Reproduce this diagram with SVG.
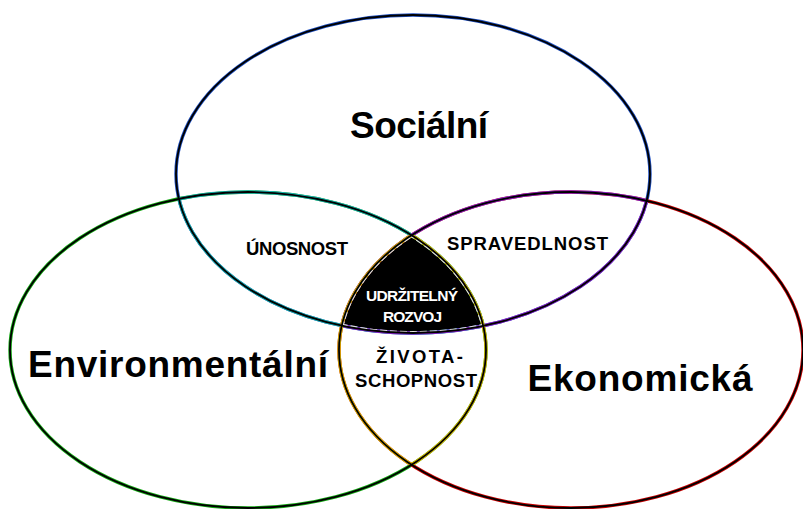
<svg xmlns="http://www.w3.org/2000/svg" width="803" height="509" viewBox="0 0 803 509">
<style>
.big{font-family:"Liberation Sans",Arial,sans-serif;font-weight:bold;font-size:37px;fill:#000;text-anchor:middle}
.mid{font-family:"Liberation Sans",Arial,sans-serif;font-weight:bold;font-size:18.5px;fill:#000;text-anchor:middle}
.wht{font-family:"Liberation Sans",Arial,sans-serif;font-weight:bold;font-size:15.5px;fill:#fff;text-anchor:middle}
.c{fill:none;stroke-width:3.4}
.k{fill:none;stroke:#000;stroke-width:1.8}
.w{fill:none;stroke:#e0e0e0;stroke-width:4;stroke-dasharray:7 3}
</style>
<defs>
<ellipse id="eT" cx="413" cy="174" rx="237" ry="159"/>
<ellipse id="eL" cx="248" cy="350" rx="238" ry="158"/>
<ellipse id="eR" cx="571" cy="350" rx="232" ry="158"/>
<clipPath id="cT"><use href="#eT"/></clipPath>
<clipPath id="cL"><use href="#eL"/></clipPath>
<clipPath id="cR"><use href="#eR"/></clipPath>
</defs>
<rect width="803" height="509" fill="#fff"/>
<g id="core-fill" clip-path="url(#cT)"><g clip-path="url(#cL)"><use href="#eR" fill="#000"/></g></g>
<g id="tints">
<use href="#eT" class="c" stroke="#1e4fc0"/>
<use href="#eL" class="c" stroke="#14a814"/>
<use href="#eR" class="c" stroke="#c80000"/>
<g clip-path="url(#cL)"><use href="#eT" class="c" stroke="#19b0b0"/></g>
<g clip-path="url(#cT)"><use href="#eL" class="c" stroke="#19b0b0"/></g>
<g clip-path="url(#cR)"><use href="#eT" class="c" stroke="#8a22c8"/></g>
<g clip-path="url(#cT)"><use href="#eR" class="c" stroke="#8a22c8"/></g>
<g clip-path="url(#cR)"><use href="#eL" class="c" stroke="#d8b400"/></g>
<g clip-path="url(#cL)"><use href="#eR" class="c" stroke="#d8b400"/></g>
<g clip-path="url(#cT)"><g clip-path="url(#cL)"><g clip-path="url(#cR)">
<use href="#eT" class="w"/><use href="#eL" class="w"/><use href="#eR" class="w"/>
</g></g></g>
</g>
<g id="node-socialni">
<use href="#eT" class="k"/>
<text class="big" x="419" y="138" textLength="138" lengthAdjust="spacing">Sociální</text>
</g>
<g id="node-environmentalni">
<use href="#eL" class="k"/>
<text class="big" x="178" y="377" textLength="300" lengthAdjust="spacing">Environmentální</text>
</g>
<g id="node-ekonomicka">
<use href="#eR" class="k"/>
<text class="big" x="640" y="391" textLength="225" lengthAdjust="spacing">Ekonomická</text>
</g>
<g id="labels">
<text class="mid" x="297" y="255" textLength="102" lengthAdjust="spacing">ÚNOSNOST</text>
<text class="mid" x="527.5" y="250" textLength="161" lengthAdjust="spacing">SPRAVEDLNOST</text>
<text class="mid" x="419.5" y="363" textLength="87" lengthAdjust="spacing">ŽIVOTA-</text>
<text class="mid" x="416" y="387" textLength="122" lengthAdjust="spacing">SCHOPNOST</text>
<text class="wht" x="412" y="301" textLength="92" lengthAdjust="spacing">UDRŽITELNÝ</text>
<text class="wht" x="412.5" y="322" textLength="59" lengthAdjust="spacing">ROZVOJ</text>
</g>
</svg>
